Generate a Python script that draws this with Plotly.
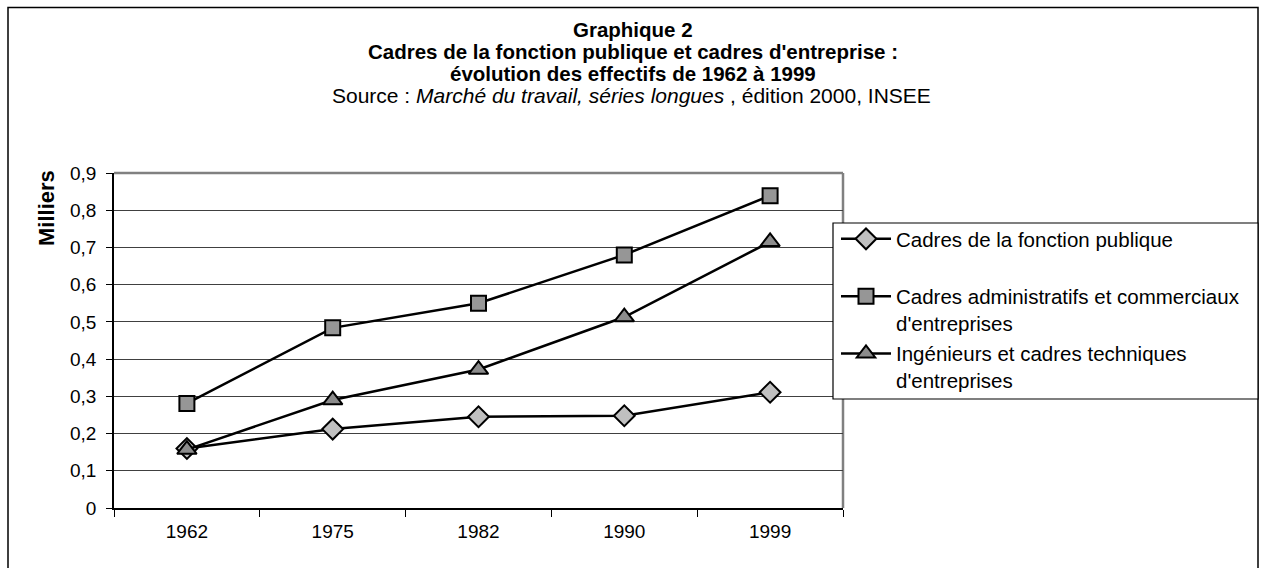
import plotly.graph_objects as go

# ---- data ----
years = ["1962", "1975", "1982", "1990", "1999"]
fonction_publique = [0.160, 0.212, 0.245, 0.248, 0.311]
admin_commerciaux = [0.281, 0.484, 0.550, 0.680, 0.839]
ingenieurs = [0.157, 0.290, 0.372, 0.513, 0.715]
series_names = [
    "Cadres de la fonction publique<br>&nbsp;",
    "Cadres administratifs et commerciaux<br>d'entreprises",
    "Ingénieurs et cadres techniques<br>d'entreprises",
]
y_tickvals = [0, 0.1, 0.2, 0.3, 0.4, 0.5, 0.6, 0.7, 0.8, 0.9]
y_ticktext = ["0", "0,1", "0,2", "0,3", "0,4", "0,5", "0,6", "0,7", "0,8", "0,9"]

W, H = 1263, 568
# plot area in screenshot pixels
L, R, T, B = 114, 843, 173, 508


def px(x):
    return (x - L) / (R - L)


def py(y):
    return (B - y) / (B - T)


FONT = "Liberation Sans, Arial, sans-serif"

fig = go.Figure()

fig.add_trace(go.Scatter(
    x=years, y=fonction_publique, name=series_names[0], mode="lines+markers",
    line=dict(color="black", width=2.5), legendgroup="a",
    marker=dict(symbol="diamond", size=16, color="#c0c0c0",
                line=dict(color="black", width=2)),
))
fig.add_trace(go.Scatter(
    x=years, y=admin_commerciaux, name=series_names[1], mode="lines+markers",
    line=dict(color="black", width=2.5), legendgroup="b",
    marker=dict(symbol="square", size=15, color="#969696",
                line=dict(color="black", width=2)),
))
fig.add_trace(go.Scatter(
    x=years, y=ingenieurs, name=series_names[2], mode="lines+markers",
    line=dict(color="black", width=2.5), legendgroup="c",
    marker=dict(symbol="triangle-up", size=17, color="#8c8c8c",
                line=dict(color="black", width=2)),
))

shapes = [
    # outer frame
    dict(type="rect", xref="paper", yref="paper", x0=px(8), x1=px(1258),
         y0=py(600), y1=py(7.5), line=dict(color="black", width=1.5), layer="below"),
    # plot area border (top / right in gray)
    dict(type="line", xref="paper", yref="paper", x0=0, x1=1, y0=1, y1=1,
         line=dict(color="#808080", width=2.5), layer="below"),
    dict(type="line", xref="paper", yref="paper", x0=1, x1=1, y0=0, y1=1,
         line=dict(color="#808080", width=2.5), layer="below"),
    # legend box
    dict(type="rect", xref="paper", yref="paper", x0=px(833), x1=px(1258),
         y0=py(399), y1=py(223), line=dict(color="black", width=1.2),
         fillcolor="white", layer="above"),
]

annotations = [
    dict(text="<b>Graphique 2</b>", x=px(633), y=py(29)),
    dict(text="<b>Cadres de la fonction publique et cadres d'entreprise :</b>", x=px(633), y=py(51)),
    dict(text="<b>évolution des effectifs de 1962 à 1999</b>", x=px(633), y=py(74)),
    dict(text="Source : <i>Marché du travail, séries longues</i> , édition 2000, INSEE",
         x=px(631), y=py(96), size=21),
    dict(text="<b>Milliers</b>", x=px(46), y=py(208), textangle=-90, size=22),
]
ann = []
for a in annotations:
    size = a.pop("size", 20.5)
    ann.append(dict(xref="paper", yref="paper", showarrow=False,
                    xanchor="center", yanchor="middle",
                    font=dict(family=FONT, size=size, color="black"), **a))

fig.update_layout(
    width=W, height=H, autosize=False,
    margin=dict(l=L, r=W - R, t=T, b=H - B, pad=0),
    paper_bgcolor="white", plot_bgcolor="white",
    font=dict(family=FONT, size=19, color="black"),
    shapes=shapes, annotations=ann,
    showlegend=True,
    legend=dict(
        x=px(836), y=py(219), xanchor="left", yanchor="top",
        bgcolor="rgba(0,0,0,0)", borderwidth=0,
        font=dict(family=FONT, size=20.5, color="black"),
        valign="top", tracegroupgap=1, itemwidth=50,
    ),
    xaxis=dict(
        type="category", range=[-0.5, 4.5], showgrid=False,
        showline=True, linecolor="black", linewidth=1.5,
        ticks="outside", tickson="boundaries", ticklen=7, tickcolor="black",
        tickfont=dict(family=FONT, size=19), zeroline=False,
        ticklabelstandoff=5,
    ),
    yaxis=dict(
        range=[0, 0.9], tickvals=y_tickvals, ticktext=y_ticktext,
        showgrid=True, gridcolor="#404040", gridwidth=1,
        showline=True, linecolor="black", linewidth=1.5,
        ticks="outside", ticklen=6, tickcolor="black",
        tickfont=dict(family=FONT, size=19), zeroline=False,
        ticklabelstandoff=6,
    ),
)

# remove the default page margin so the figure fills the window exactly
fig.write_html(
    "out.html",
    config={"displayModeBar": False},
    post_script="document.body.style.margin='0';document.body.style.overflow='hidden';",
)
